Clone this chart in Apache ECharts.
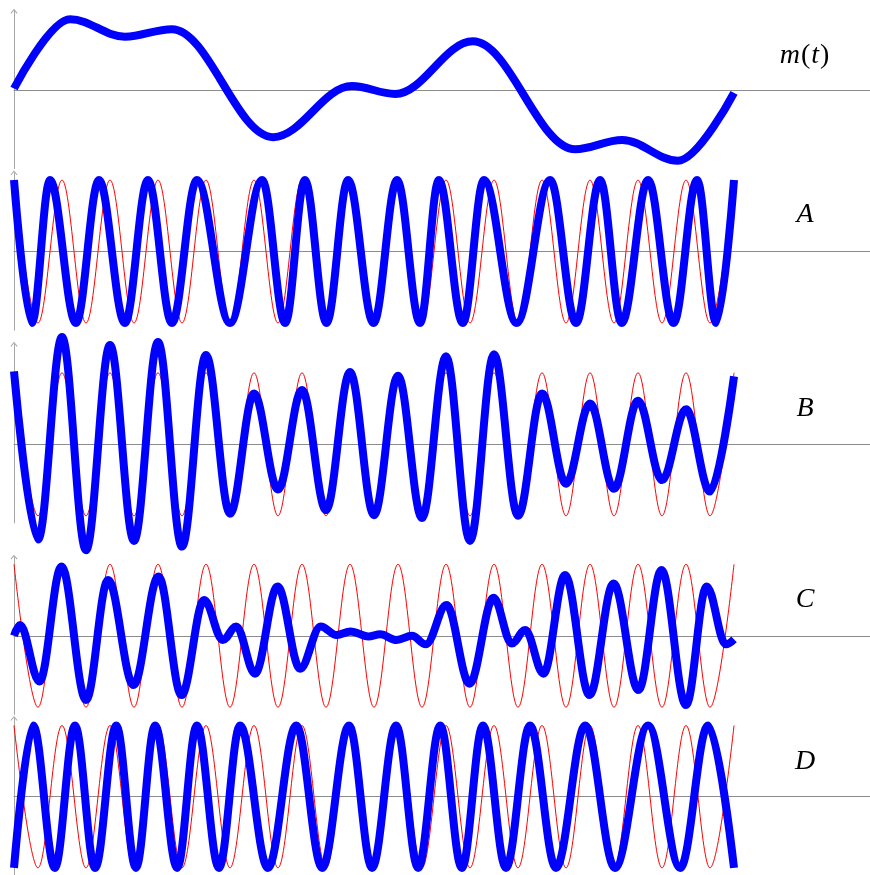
<!DOCTYPE html>
<html>
<head>
<meta charset="utf-8">
<title>Modulation</title>
<script src="https://cdn.jsdelivr.net/npm/echarts@6/dist/echarts.min.js"></script>
<style>
  html, body { margin: 0; padding: 0; background: #fff; }
  #chart { width: 870px; height: 875px; }
</style>
</head>
<body>
<div id="chart"></div>
<script>
// time is in carrier periods, amplitude in carrier units (points are the extrema)
const carrierT = [0, 0.5, 1, 1.5, 2, 2.5, 3, 3.5, 4, 4.5, 5, 5.5, 6, 6.5, 7, 7.5, 8, 8.5, 9, 9.5, 10, 10.5, 11, 11.5, 12, 12.5, 13, 13.5, 14, 14.5, 15]
const carrierV = [1, -1, 1, -1, 1, -1, 1, -1, 1, -1, 1, -1, 1, -1, 1, -1, 1, -1, 1, -1, 1, -1, 1, -1, 1, -1, 1, -1, 1, -1, 1]

// m(t)
const msgT = [0, 1.17, 2.31, 3.29, 5.40, 7.04, 7.94, 9.56, 11.69, 12.67, 13.83, 15]
const msgV = [0.02, 0.99, 0.745, 0.85, -0.66, 0.055, -0.056, 0.68, -0.83, -0.70, -0.99, -0.04]

// A
const pmT = [0, 0.37, 0.75, 1.29, 1.77, 2.31, 2.79, 3.29, 3.81, 4.5, 5.17, 5.65, 6.06, 6.51, 6.96, 7.49, 7.98, 8.46, 8.85, 9.35, 9.79, 10.47, 11.17, 11.71, 12.21, 12.66, 13.21, 13.74, 14.23, 14.63, 15]
const pmV = [1, -1, 1, -1, 1, -1, 1, -1, 1, -1, 1, -1, 1, -1, 1, -1, 1, -1, 1, -1, 1, -1, 1, -1, 1, -1, 1, -1, 1, -1, 1]

// B (same instants as the carrier extrema)
const amV = [1.02, -1.33, 1.50, -1.48, 1.39, -1.35, 1.43, -1.43, 1.25, -0.97, 0.71, -0.63, 0.76, -0.92, 1.01, -0.99, 0.96, -1.03, 1.23, -1.35, 1.26, -1.0, 0.71, -0.55, 0.57, -0.62, 0.61, -0.5, 0.49, -0.66, 0.95]

// C
const dsbT = [0, 0.125, 0.53, 0.99, 1.5, 1.96, 2.49, 3.01, 3.49, 3.96, 4.35, 4.63, 5.02, 5.49, 5.96, 6.39, 6.72, 7.01, 7.38, 7.63, 7.97, 8.29, 8.58, 9.01, 9.49, 9.99, 10.37, 10.65, 11.03, 11.48, 11.99, 12.49, 13.01, 13.49, 14.0, 14.43, 14.83, 15]
const dsbV = [0, 0.15, -0.64, 0.97, -0.9, 0.78, -0.69, 0.83, -0.83, 0.5, -0.06, 0.13, -0.53, 0.69, -0.46, 0.13, 0.01, 0.06, -0.01, 0.02, -0.06, 0.0, -0.12, 0.43, -0.67, 0.53, -0.11, 0.08, -0.53, 0.85, -0.83, 0.73, -0.76, 0.92, -0.97, 0.69, -0.12, -0.05]

// D
const fmT = [0, 0.40, 0.85, 1.27, 1.69, 2.13, 2.54, 2.94, 3.40, 3.81, 4.27, 4.71, 5.29, 5.88, 6.42, 6.98, 7.46, 7.96, 8.42, 8.88, 9.33, 9.77, 10.25, 10.75, 11.29, 11.90, 12.52, 13.21, 13.88, 14.46, 15]
const fmV = [-1, 1, -1, 1, -1, 1, -1, 1, -1, 1, -1, 1, -1, 1, -1, 1, -1, 1, -1, 1, -1, 1, -1, 1, -1, 1, -1, 1, -1, 1, -1]

const pair = (ts, vs) => ts.map((t, i) => [t, vs[i]])

// one strip per signal, 71.5px per carrier unit
const panels = [
  { top: 11.3, height: 157.3, max: 1.1, label: '{i|m}{u|(}{i|t}{u|)}', labelY: 56 },
  { top: 172.9, height: 157.3, max: 1.1, label: '{i|A}', labelY: 215 },
  { top: 344.2, height: 178.8, max: 1.4, label: '{i|B}', labelY: 409 },
  { top: 557.1, height: 157.3, max: 1.1, label: '{i|C}', labelY: 600 },
  { top: 718.4, height: 157.3, max: 1.1, label: '{i|D}', labelY: 762 }
]

const blue = (name, idx, data) => ({
  name, type: 'line', xAxisIndex: idx, yAxisIndex: idx, data,
  smooth: 0.36, smoothMonotone: 'x', showSymbol: false, symbol: 'none', clip: false,
  lineStyle: { color: '#0000ff', width: 8, join: 'round' }, z: 3
})
const red = (idx) => ({
  name: 'carrier', type: 'line', xAxisIndex: idx, yAxisIndex: idx, data: pair(carrierT, carrierV),
  smooth: 0.36, smoothMonotone: 'x', showSymbol: false, symbol: 'none', clip: false,
  lineStyle: { color: '#ff0000', width: 1 }, z: 2
})

const chart = echarts.init(document.getElementById('chart'))

const rich = {
  i: { fontFamily: 'Liberation Serif', fontStyle: 'italic', fontSize: 28, color: '#000' },
  u: { fontFamily: 'Liberation Serif', fontStyle: 'normal', fontSize: 28, color: '#000', padding: [0, 1, 0, 1] }
}

chart.setOption({
  animation: false,
  backgroundColor: '#fff',
  grid: panels.map(p => ({ left: 14, right: 0, top: p.top, height: p.height, containLabel: false })),
  xAxis: panels.map((p, i) => ({
    type: 'value', gridIndex: i, min: 0, max: 17.833,
    axisLine: { show: true, onZero: true, lineStyle: { color: '#8c8c8c', width: 1 } },
    axisTick: { show: false }, axisLabel: { show: false }, splitLine: { show: false }
  })),
  yAxis: panels.map((p, i) => ({
    type: 'value', gridIndex: i, min: -1.1, max: p.max,
    axisLine: {
      show: true,
      symbol: ['none', 'path://M0,6 L5,0 L10,6 L9,7 L5,2.2 L1,7 Z'],
      symbolSize: [7, 5],
      lineStyle: { color: '#a6a6a6', width: 1 }
    },
    axisTick: { show: false }, axisLabel: { show: false }, splitLine: { show: false }
  })),
  series: [
    blue('m(t)', 0, pair(msgT, msgV)),
    red(1), blue('A', 1, pair(pmT, pmV)),
    red(2), blue('B', 2, pair(carrierT, amV)),
    red(3), blue('C', 3, pair(dsbT, dsbV)),
    red(4), blue('D', 4, pair(fmT, fmV))
  ],
  graphic: panels.map(p => ({
    type: 'text', x: 805, y: p.labelY, z: 10,
    style: { text: p.label, rich, align: 'center', verticalAlign: 'middle' }
  }))
})
</script>
</body>
</html>
